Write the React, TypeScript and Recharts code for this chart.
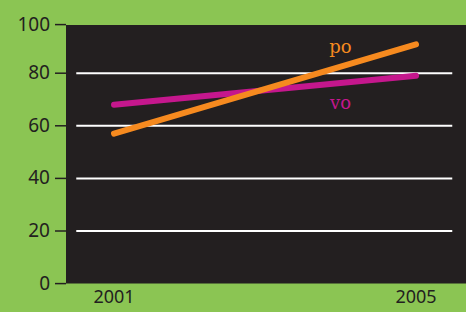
import React from 'react';
import {
    LineChart,
    Line,
    XAxis,
    YAxis,
    ReferenceArea,
    ReferenceLine,
    ReferenceDot,
    Label,
} from 'recharts';

const years = [2001, 2005];
const poValues = [57, 91];
const voValues = [68, 79];
const yTicks = [0, 20, 40, 60, 80, 100];
const gridValues = [20, 40, 60, 80];

const data = years.map((year, i) => ({
    year,
    po: poValues[i],
    vo: voValues[i],
}));

const GREEN = '#8bc553';
const DARK = '#231f20';
const ORANGE = '#f68a1f';
const MAGENTA = '#c5178d';
const NUM_FONT = '"Noto Sans", sans-serif';

// top tick sits on the plot's upper edge in the original, a few px below 100
// eslint-disable-next-line @typescript-eslint/no-explicit-any
const YTick = (props: any) => {
    const { x, y, payload } = props;
    const shift = payload.value === 100 ? 4 : 0;
    return (
        <g>
            <line
                x1={x + 5}
                x2={x + 16}
                y1={y + shift}
                y2={y + shift}
                stroke={DARK}
                strokeWidth={1.5}
            />
            <text
                x={x}
                y={y + shift}
                dy="0.32em"
                textAnchor="end"
                fill={DARK}
                fontSize={19}
                fontFamily={NUM_FONT}
            >
                {payload.value}
            </text>
        </g>
    );
};

export default function App() {
    return (
        <div
            style={{
                position: 'fixed',
                top: 0,
                left: 0,
                width: 466,
                height: 312,
                background: GREEN,
            }}
        >
            <LineChart
                width={466}
                height={312}
                data={data}
                margin={{ top: 20.6, right: 0, left: 0, bottom: 0 }}
            >
                <XAxis
                    dataKey="year"
                    type="number"
                    domain={[2000.364, 2005.662]}
                    ticks={years}
                    axisLine={false}
                    tickLine={false}
                    tickSize={0}
                    tickMargin={7}
                    height={28.4}
                    tick={{ fill: DARK, fontSize: 18, fontFamily: NUM_FONT }}
                />
                <YAxis
                    type="number"
                    domain={[0, 100]}
                    ticks={yTicks}
                    width={66}
                    axisLine={false}
                    tickLine={false}
                    tickSize={11}
                    tickMargin={5}
                    tick={<YTick />}
                />
                <ReferenceArea
                    x1={2000.364}
                    x2={2005.662}
                    y1={0}
                    y2={98.3}
                    fill={DARK}
                    fillOpacity={1}
                    stroke="none"
                />
                {gridValues.map((v) => (
                    <ReferenceLine
                        key={v}
                        segment={[
                            { x: 2000.5, y: v },
                            { x: 2005.48, y: v },
                        ]}
                        stroke="#ffffff"
                        strokeWidth={2}
                    />
                ))}
                <Line
                    dataKey="vo"
                    stroke={MAGENTA}
                    strokeWidth={6}
                    strokeLinecap="round"
                    dot={false}
                    activeDot={false}
                    isAnimationActive={false}
                />
                <Line
                    dataKey="po"
                    stroke={ORANGE}
                    strokeWidth={6}
                    strokeLinecap="round"
                    dot={false}
                    activeDot={false}
                    isAnimationActive={false}
                />
                <ReferenceDot x={2004} y={90} r={0} stroke="none">
                    <Label
                        value="po"
                        position="center"
                        fill={ORANGE}
                        fontSize={18}
                        fontFamily='"DejaVu Serif", serif'
                    />
                </ReferenceDot>
                <ReferenceDot x={2004} y={69} r={0} stroke="none">
                    <Label
                        value="vo"
                        position="center"
                        fill={MAGENTA}
                        fontSize={18}
                        fontFamily='"DejaVu Serif", serif'
                    />
                </ReferenceDot>
            </LineChart>
        </div>
    );
}
